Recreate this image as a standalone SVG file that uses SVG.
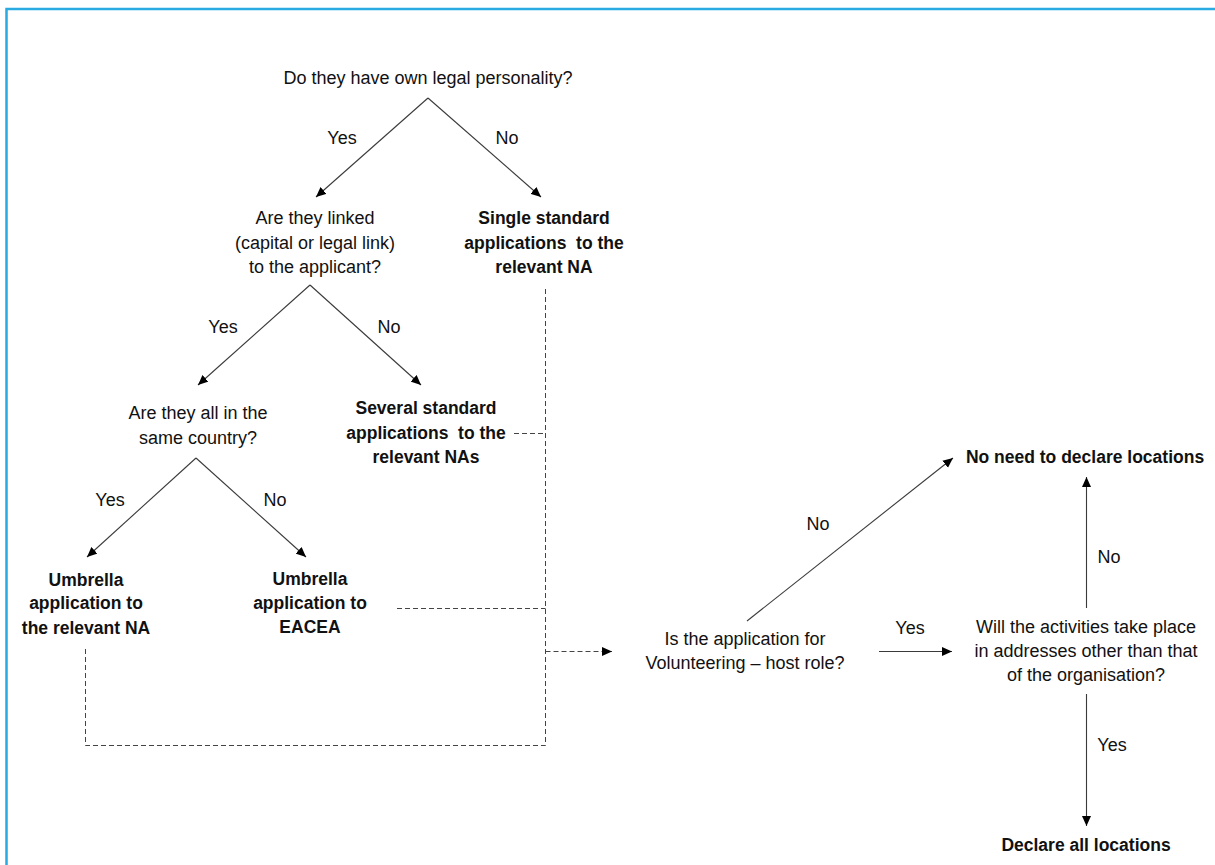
<svg xmlns="http://www.w3.org/2000/svg" width="1215" height="865" viewBox="0 0 1215 865">
<defs>
<style>
text{font-family:"Liberation Sans",Arial,sans-serif;font-size:18px;fill:#111;text-anchor:middle}
.b{font-weight:bold;font-size:17.5px}
.ln{stroke:#3a3a3a;stroke-width:1.1;fill:none}
.ds{stroke:#444;stroke-width:1;fill:none;stroke-dasharray:5,3}
</style>
<marker id="ah" viewBox="0 0 10 10" refX="10" refY="5" markerWidth="10" markerHeight="10" markerUnits="userSpaceOnUse" orient="auto">
<path d="M0,0.5 L10,5 L0,9.5 z" fill="#000"/>
</marker>
</defs>
<rect x="6.5" y="9" width="1230" height="880" fill="#fff" stroke="#29abe2" stroke-width="2.5"/>
<g id="connectors">
<line class="ln" x1="428" y1="98" x2="316" y2="197" marker-end="url(#ah)"/>
<line class="ln" x1="428" y1="98" x2="541" y2="197" marker-end="url(#ah)"/>
<line class="ln" x1="310" y1="285" x2="198" y2="385" marker-end="url(#ah)"/>
<line class="ln" x1="310" y1="285" x2="421" y2="385" marker-end="url(#ah)"/>
<line class="ln" x1="196" y1="458" x2="87" y2="557" marker-end="url(#ah)"/>
<line class="ln" x1="196" y1="458" x2="306" y2="557" marker-end="url(#ah)"/>
<path class="ds" d="M545.5,289 V745.5 H85.5 V647"/>
<path class="ds" d="M514,433.5 H545.5"/>
<path class="ds" d="M397,608.5 H545.5"/>
<path class="ds" d="M545.5,651.5 H612" marker-end="url(#ah)"/>
<line class="ln" x1="747" y1="621" x2="953" y2="458" marker-end="url(#ah)"/>
<line class="ln" x1="879" y1="651.5" x2="952" y2="651.5" marker-end="url(#ah)"/>
<line class="ln" x1="1086.5" y1="608" x2="1086.5" y2="477" marker-end="url(#ah)"/>
<line class="ln" x1="1086.5" y1="694" x2="1086.5" y2="826" marker-end="url(#ah)"/>
<text x="342" y="144">Yes</text>
<text x="507" y="144">No</text>
<text x="223" y="333">Yes</text>
<text x="389" y="333">No</text>
<text x="110" y="506">Yes</text>
<text x="275" y="506">No</text>
<text x="818" y="530">No</text>
<text x="1109" y="563">No</text>
<text x="910" y="634">Yes</text>
<text x="1112" y="751">Yes</text>
</g>
<g id="q1"><text x="428" y="84">Do they have own legal personality?</text></g>
<g id="q2"><text x="315" y="224">Are they linked</text><text x="315" y="249">(capital or legal link)</text><text x="315" y="273">to the applicant?</text></g>
<g id="r1"><text class="b" x="544" y="224">Single standard</text><text class="b" x="544" y="249" xml:space="preserve">applications  to the</text><text class="b" x="544" y="273">relevant NA</text></g>
<g id="q3"><text x="198" y="419">Are they all in the</text><text x="198" y="444">same country?</text></g>
<g id="r2"><text class="b" x="426" y="414">Several standard</text><text class="b" x="426" y="439" xml:space="preserve">applications  to the</text><text class="b" x="426" y="463">relevant NAs</text></g>
<g id="r3"><text class="b" x="86" y="586">Umbrella</text><text class="b" x="86" y="609">application to</text><text class="b" x="86" y="634">the relevant NA</text></g>
<g id="r4"><text class="b" x="310" y="585">Umbrella</text><text class="b" x="310" y="609">application to</text><text class="b" x="310" y="633">EACEA</text></g>
<g id="q4"><text x="745" y="645">Is the application for</text><text x="745" y="669">Volunteering – host role?</text></g>
<g id="q5"><text x="1086" y="633">Will the activities take place</text><text x="1086" y="657">in addresses other than that</text><text x="1086" y="681">of the organisation?</text></g>
<g id="r5"><text class="b" x="1085" y="463">No need to declare locations</text></g>
<g id="r6"><text class="b" x="1086" y="851">Declare all locations</text></g>
</svg>
